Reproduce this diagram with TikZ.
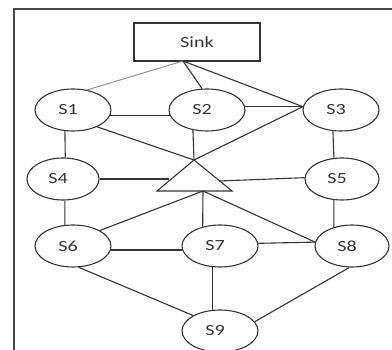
\documentclass[tikz,border=0pt]{standalone}
\usepackage{fontspec}
\usepackage{graphicx}
\setmainfont{Carlito}
\usetikzlibrary{shapes.geometric}
\definecolor{ink}{HTML}{333333}
\definecolor{lightink}{HTML}{8A8A8A}
\newcommand{\lbl}[1]{\makebox[0pt]{\hspace{-10pt}\scalebox{1.3}[1]{#1}}}
\tikzset{
  sensor/.style={ellipse, draw=ink, line width=1.1pt, minimum width=76pt, minimum height=42pt, inner sep=0pt, text=ink, font=\fontsize{15.5}{18}\selectfont},
  sinkbox/.style={rectangle, draw=ink, line width=1.1pt, minimum width=126pt, minimum height=38pt, inner sep=0pt, text=ink, font=\fontsize{15.5}{18}\selectfont},
  link/.style={draw=ink, line width=1.1pt},
  lightlink/.style={draw=lightink, line width=0.9pt},
  frameline/.style={draw=ink!90, line width=2pt}
}
\begin{document}
\begin{tikzpicture}[x=1pt,y=-1pt]
\useasboundingbox (0,0) rectangle (392,350);
% frame
\coordinate (fbl) at (14,350);
\coordinate (ftl) at (14,9);
\coordinate (ftr) at (392,9);
\draw[frameline] (fbl) -- (ftl) -- (ftr);
% nodes
\node[sinkbox] (Sink) at (197,42) {\scalebox{1.3}[1]{Sink}};
\node[sensor] (S1) at (73,110) {\lbl{S1}};
\node[sensor] (S2) at (207,110) {\lbl{S2}};
\node[sensor] (S3) at (341,110) {\lbl{S3}};
\node[sensor, minimum width=72pt] (S4) at (63,179) {\lbl{S4}};
\node[sensor, minimum width=74pt] (S5) at (342,179) {\lbl{S5}};
\node[sensor] (S6) at (73,246) {\lbl{S6}};
\node[sensor] (S7) at (220,246) {\lbl{S7}};
\node[sensor, minimum width=74pt] (S8) at (352,246) {\lbl{S8}};
\node[sensor] (S9) at (220,331) {\lbl{S9}};
% triangle
\coordinate (ta) at (194,160);
\coordinate (tl) at (157,191);
\coordinate (tr) at (232,191);
\coordinate (tb) at (203,191);
\coordinate (tlm) at (169,179);
\coordinate (trm) at (219,181);
\coordinate (sb) at (183,61);
\draw[link, line join=miter] (ta) -- (tl) -- (tr) -- cycle;
% edges
\draw[lightlink] (sb) -- (S1.55);
\draw[link] (sb) -- (S2.103);
\draw[link] (sb) -- (S3.175);
\draw[link] (S1.-8) -- (S2.188);
\draw[link] (S2.5) -- (S3.175);
\draw[link] (S1.-35) -- (ta);
\draw[link] (S2.-125) -- (ta);
\draw[link] (S3.175) -- (ta);
\draw[link] (S1.-111) -- (S4.84);
\draw[link] (S3.-111) -- (S5.111);
\draw[link] (S4.0) -- (tlm);
\draw[link] (S5.178) -- (trm);
\draw[link] (S4.-85) -- (S6.111);
\draw[link] (S5.-111) -- (S8.134);
\draw[link] (S6.30) -- (tb);
\draw[link] (S7.132) -- (tb);
\draw[link] (S8.174) -- (tb);
\draw[link] (S6.-6) -- (S7.186);
\draw[link] (S7.4) -- (S8.174);
\draw[link] (S6.-75) -- (S9.150);
\draw[link] (S7.-109) -- (S9.109);
\draw[link] (S8.-97) -- (S9.15);
\end{tikzpicture}
\end{document}
